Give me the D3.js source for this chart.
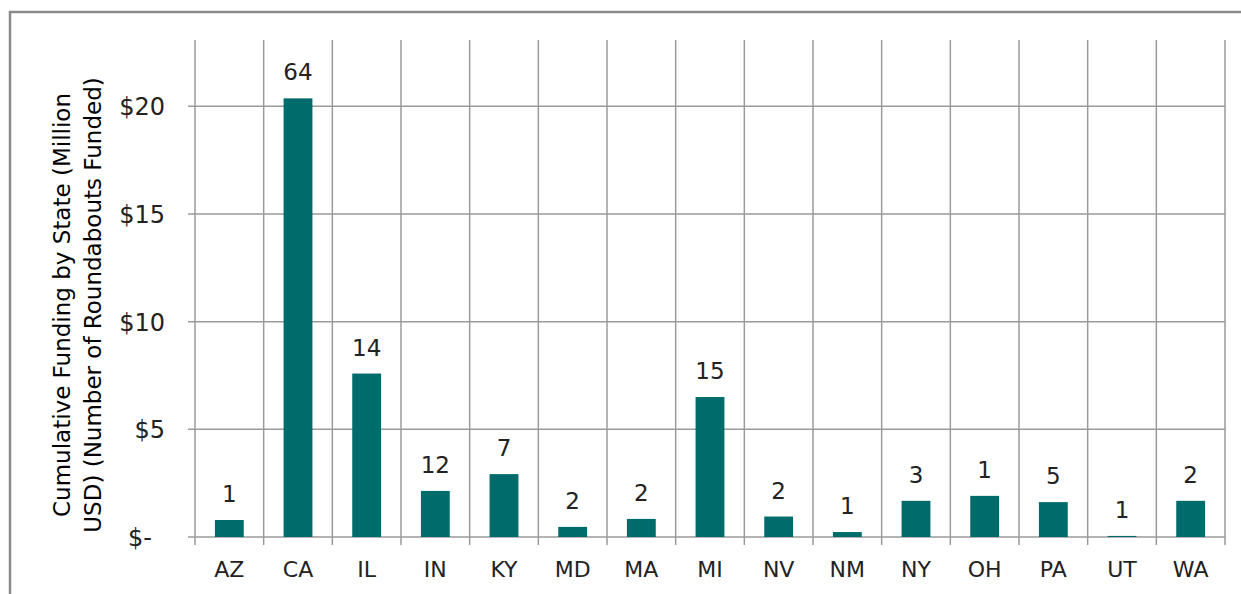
<!DOCTYPE html>
<html lang="en">
<head>
<meta charset="UTF-8">
<title>Funding by State</title>
<script src="https://d3js.org/d3.v7.min.js"></script>
<style>
    body {margin: 0; background: #fff;}
    svg {display: block;}
    text {font-family: "DejaVu Sans", "Liberation Sans", Arial, sans-serif; fill: #222;}
</style>
</head>
<body>
<svg id="chart" width="1241" height="594"></svg>
<script>
// data
let states = ["AZ", "CA", "IL", "IN", "KY", "MD", "MA", "MI", "NV", "NM", "NY", "OH", "PA", "UT", "WA"];
let funding = [0.79, 20.37, 7.59, 2.14, 2.92, 0.47, 0.84, 6.5, 0.95, 0.23, 1.68, 1.91, 1.62, 0.05, 1.68];
let counts = [1, 64, 14, 12, 7, 2, 2, 15, 2, 1, 3, 1, 5, 1, 2];
let yTicks = [0, 5, 10, 15, 20];
let yTitle = ["Cumulative Funding by State (Million", "USD) (Number of Roundabouts Funded)"];

let svg = d3.select("#chart");
let plotLeft = 195, plotRight = 1225, plotTop = 40, plotBottom = 537;
let gridColor = "#9a9a9a";
let barColor = "#006b6b";

// outer frame
svg.append("rect")
    .attr("x", 10).attr("y", 12)
    .attr("width", 1260).attr("height", 620)
    .attr("fill", "none")
    .attr("stroke", "#8a8a8a")
    .attr("stroke-width", 2.5);

let x = d3.scaleBand()
    .domain(states)
    .range([plotLeft, plotRight])
    .paddingInner(0.58)
    .paddingOuter(0.29);

let y = d3.scaleLinear()
    .domain([0, 23.08])
    .range([plotBottom, plotTop]);

let gap = (x.step() - x.bandwidth()) / 2;

// vertical grid (category boundaries) incl. ticks below baseline
let bounds = states.map(d => x(d) - gap).concat([plotRight]);
svg.append("g").selectAll("line")
    .data(bounds)
    .join("line")
    .attr("x1", d => d).attr("x2", d => d)
    .attr("y1", plotTop).attr("y2", plotBottom + 8)
    .attr("stroke", gridColor)
    .attr("stroke-width", 1.5);

// horizontal grid
svg.append("g").selectAll("line")
    .data(yTicks)
    .join("line")
    .attr("x1", plotLeft - 7).attr("x2", plotRight)
    .attr("y1", d => y(d)).attr("y2", d => y(d))
    .attr("stroke", gridColor)
    .attr("stroke-width", 1.5);

// y tick labels
svg.append("g").selectAll("text")
    .data(yTicks)
    .join("text")
    .attr("x", d => d === 0 ? 152 : 165)
    .attr("y", d => y(d) + 9)
    .attr("text-anchor", "end")
    .style("font-size", "24px")
    .text(d => d === 0 ? "$-" : "$" + d);

// bars
svg.append("g").selectAll("rect")
    .data(states)
    .join("rect")
    .attr("x", d => x(d))
    .attr("width", x.bandwidth())
    .attr("y", (d, i) => y(funding[i]))
    .attr("height", (d, i) => plotBottom - y(funding[i]))
    .attr("fill", barColor);

// count labels above bars
svg.append("g").selectAll("text")
    .data(states)
    .join("text")
    .attr("x", d => x(d) + x.bandwidth() / 2)
    .attr("y", (d, i) => y(funding[i]) - 18)
    .attr("text-anchor", "middle")
    .style("font-size", "23px")
    .text((d, i) => counts[i]);

// category labels
svg.append("g").selectAll("text")
    .data(states)
    .join("text")
    .attr("x", d => x(d) + x.bandwidth() / 2)
    .attr("y", 577)
    .attr("text-anchor", "middle")
    .style("font-size", "22px")
    .text(d => d);

// y axis title, two lines
svg.append("text")
    .attr("transform", "translate(70,305) rotate(-90)")
    .attr("text-anchor", "middle")
    .style("font-size", "23px")
    .style("fill", "#000")
    .selectAll("tspan")
    .data(yTitle)
    .join("tspan")
    .attr("x", 0)
    .attr("dy", (d, i) => i === 0 ? 0 : 31)
    .text(d => d);
</script>
</body>
</html>
